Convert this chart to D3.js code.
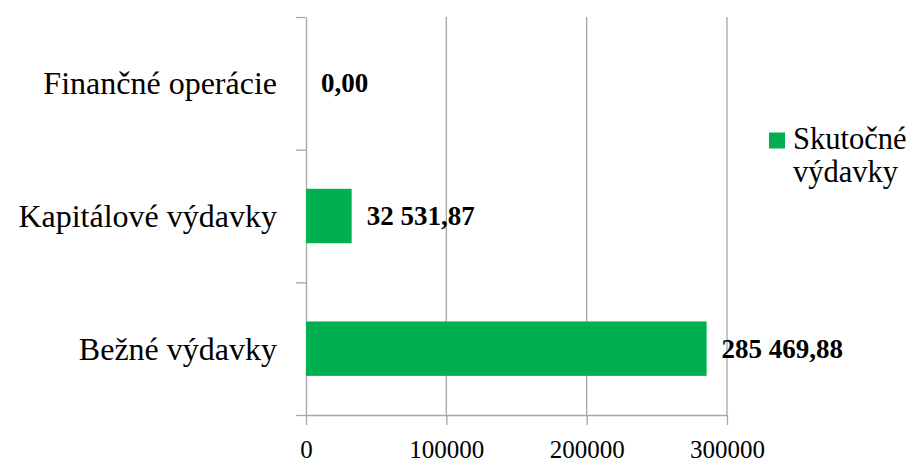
<!DOCTYPE html>
<html>
<head>
  <meta charset="utf-8">
  <title>Skutočné výdavky</title>
  <style>
    body { margin: 0; background: #fff; }
    svg { display: block; font-family: "Liberation Serif", "Times New Roman", serif; }
  </style>
</head>
<body>
  <svg width="914" height="459"></svg>
  <script src="https://d3js.org/d3.v7.min.js"></script>
  <script>
  // data
  var categories = ['Finančné operácie', 'Kapitálové výdavky', 'Bežné výdavky'];
  var values = [0, 32531.87, 285469.88];
  var seriesName = ['Skutočné', 'výdavky'];
  var xTicks = [0, 100000, 200000, 300000];

  var green = '#00b050';
  var grid = '#a6a6a6';

  var svg = d3.select('svg');
  var plotLeft = 306, plotRight = 727, plotTop = 17, plotBottom = 415;

  var x = d3.scaleLinear().domain([0, 300000]).range([plotLeft, plotRight]);
  var y = d3.scaleBand().domain(categories).range([plotTop, plotBottom])
    .paddingInner(0.59).paddingOuter(0.295);
  // boundaries between categories (for the left ticks)
  var yEdge = d3.scaleLinear().domain([0, categories.length]).range([plotTop, plotBottom]);

  var sk = d3.formatLocale({decimal: ',', thousands: ' ', grouping: [3], currency: ['', '']});
  var fmt = sk.format(',.2f');

  // vertical gridlines
  svg.append('g')
    .selectAll('line')
    .data(xTicks.slice(1))
    .enter()
    .append('line')
    .attr('x1', function(d) { return x(d); })
    .attr('x2', function(d) { return x(d); })
    .attr('y1', plotTop)
    .attr('y2', plotBottom)
    .attr('stroke', grid)
    .attr('stroke-width', 1.3);

  // bottom axis
  var xAxis = svg.append('g')
    .attr('transform', 'translate(0,' + plotBottom + ')')
    .call(d3.axisBottom(x).tickValues(xTicks).tickSize(10).tickSizeOuter(0).tickFormat(d3.format('d')));
  xAxis.select('.domain').attr('stroke', grid).attr('stroke-width', 1.3);
  xAxis.selectAll('.tick line').attr('stroke', grid).attr('stroke-width', 1.3);
  xAxis.selectAll('.tick text')
    .attr('y', 0).attr('dy', 43)
    .attr('fill', '#000')
    .style('font-family', '"Liberation Serif", serif')
    .style('font-size', '25px');

  // left axis, ticks at category boundaries
  var yAxis = svg.append('g')
    .attr('transform', 'translate(' + plotLeft + ',0)')
    .call(d3.axisLeft(yEdge).tickValues(d3.range(categories.length + 1)).tickSize(10).tickSizeOuter(0).tickFormat(''));
  yAxis.select('.domain').attr('stroke', grid).attr('stroke-width', 1.3);
  yAxis.selectAll('.tick line').attr('stroke', grid).attr('stroke-width', 1.3);

  // category labels
  svg.append('g')
    .selectAll('text')
    .data(categories)
    .enter()
    .append('text')
    .attr('x', 277)
    .attr('y', function(d) { return y(d) + y.bandwidth() / 2; })
    .attr('dy', 11)
    .attr('text-anchor', 'end')
    .style('font-size', '32px')
    .text(function(d) { return d; });

  // bars
  svg.append('g')
    .selectAll('rect')
    .data(values)
    .enter()
    .append('rect')
    .attr('x', x(0))
    .attr('y', function(d, i) { return y(categories[i]); })
    .attr('width', function(d) { return x(d) - x(0); })
    .attr('height', y.bandwidth())
    .attr('fill', green);

  // value labels
  svg.append('g')
    .selectAll('text')
    .data(values)
    .enter()
    .append('text')
    .attr('x', function(d) { return x(d) + 15; })
    .attr('y', function(d, i) { return y(categories[i]) + y.bandwidth() / 2; })
    .attr('dy', 9)
    .style('font-size', '27px')
    .style('font-weight', 'bold')
    .text(function(d) { return fmt(d); });

  // legend
  var legend = svg.append('g');
  legend.append('rect')
    .attr('x', 769).attr('y', 132.5)
    .attr('width', 16).attr('height', 16)
    .attr('fill', green);
  legend.append('text')
    .attr('x', 793).attr('y', 149)
    .style('font-size', '30.5px')
    .selectAll('tspan')
    .data(seriesName)
    .enter()
    .append('tspan')
    .attr('x', 793)
    .attr('dy', function(d, i) { return i ? 33 : 0; })
    .text(function(d) { return d; });
  </script>
</body>
</html>
